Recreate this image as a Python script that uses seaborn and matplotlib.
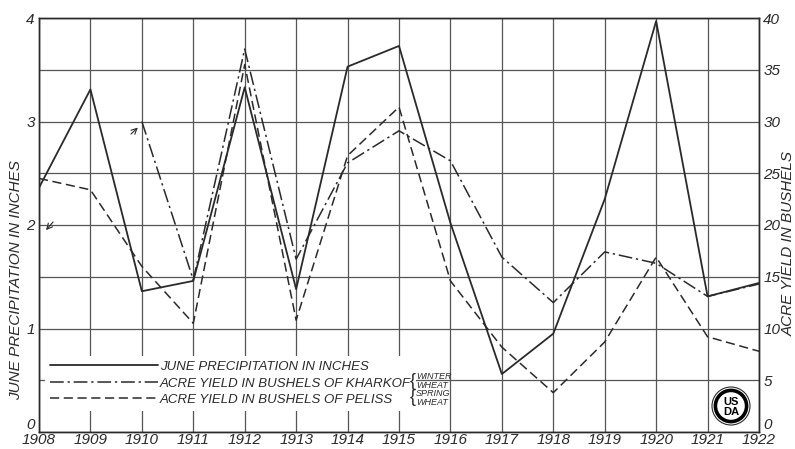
import numpy as np
import pandas as pd
import matplotlib
matplotlib.use("Agg")
import matplotlib.pyplot as plt
import seaborn as sns
from matplotlib.lines import Line2D
from matplotlib.patches import Circle

# values
years = list(range(1908, 1923))
precip = [2.36, 3.31, 1.36, 1.46, 3.33, 1.38, 3.53, 3.73, 2.02, 0.56, 0.95, 2.25, 3.97, 1.31, 1.44]

kharkof_years = list(range(1910, 1923))
kharkof = [30.0, 14.7, 37.0, 16.7, 26.0, 29.1, 26.2, 16.9, 12.5, 17.4, 16.3, 13.1, 14.3]

peliss = [24.5, 23.4, 16.0, 10.5, 35.5, 10.8, 26.7, 31.4, 14.6, 8.2, 3.8, 8.7, 16.9, 9.2, 7.8]

left_ticks = [0, 1, 2, 3, 4]
right_ticks = [0, 5, 10, 15, 20, 25, 30, 35, 40]
legend_labels = ["JUNE PRECIPITATION IN INCHES",
                 "ACRE YIELD IN BUSHELS OF KHARKOF",
                 "ACRE YIELD IN BUSHELS OF PELISS"]

sns.set_style("white")
plt.rcParams['font.family'] = ['Liberation Sans', 'DejaVu Sans']

ink = "#2a2a2a"
grid_col = "#555555"
lab_font = {'style': 'italic', 'size': 11, 'color': ink}

df_p = pd.DataFrame({'year': years, 'precip': precip})
df_k = pd.DataFrame({'year': kharkof_years, 'yield': kharkof})
df_s = pd.DataFrame({'year': years, 'yield': peliss})

fig = plt.figure(figsize=(7.95, 4.49), dpi=100)
ax = fig.add_axes([39 / 795, 17 / 449, 720 / 795, 414 / 449])
ax2 = ax.twinx()

dash_dot = (0, (9, 2.5, 1.5, 2.5))
dashed = (0, (6, 3))

sns.lineplot(data=df_p, x='year', y='precip', ax=ax, color=ink, linewidth=1.3)
sns.lineplot(data=df_k, x='year', y='yield', ax=ax2, color=ink, linewidth=1.1, linestyle=dash_dot)
sns.lineplot(data=df_s, x='year', y='yield', ax=ax2, color=ink, linewidth=1.1, linestyle=dashed)

ax.set_xlim(1908, 1922)
ax.set_ylim(0, 4)
ax2.set_ylim(0, 40)

ax.set_xticks(years)
ax.set_xticklabels([str(y) for y in years], fontdict=lab_font)
half_ticks = np.arange(0, 4.01, 0.5)
ax.set_yticks(half_ticks)
ax.set_yticklabels([str(int(t)) if t in left_ticks else "" for t in half_ticks], fontdict=lab_font)
ax2.set_yticks(right_ticks)
ax2.set_yticklabels([str(t) for t in right_ticks], fontdict=lab_font)
# the zero labels sit just above the year row
ax.get_yticklabels()[0].set_va('bottom')
ax2.get_yticklabels()[0].set_va('bottom')

ax.grid(True, color=grid_col, linewidth=0.9)
ax.set_axisbelow(True)
ax.tick_params(axis='both', length=0)
ax.tick_params(axis='y', pad=3)
ax.tick_params(axis='x', pad=1)
ax2.tick_params(axis='y', length=0, pad=3)
ax.set_xlabel("")
ax.set_ylabel("")
ax2.set_ylabel("")
for a in (ax, ax2):
    for s in a.spines.values():
        s.set_color(ink)
        s.set_linewidth(1.0)

fig.text(16 / 795, 1 - 280 / 449, "JUNE PRECIPITATION IN INCHES", rotation=90,
         ha='center', va='center', **lab_font)
fig.text(789 / 795, 1 - 243 / 449, "ACRE YIELD IN BUSHELS", rotation=90,
         ha='center', va='center', **lab_font)

# arrows marking where the Kharkof record begins
ax.annotate("", xy=(1909.96, 2.96), xytext=(1909.75, 2.86),
            arrowprops=dict(arrowstyle='->', color=ink, lw=0.8))
ax.annotate("", xy=(1908.1, 1.93), xytext=(1908.31, 2.05),
            arrowprops=dict(arrowstyle='->', color=ink, lw=0.8))

handles = [Line2D([], [], color=ink, linewidth=1.3),
           Line2D([], [], color=ink, linewidth=1.1, linestyle=dash_dot),
           Line2D([], [], color=ink, linewidth=1.1, linestyle=dashed)]
leg = ax2.legend(handles, legend_labels, loc='lower left', bbox_to_anchor=(0.008, 0.05),
                 frameon=True, facecolor='white', edgecolor='none', framealpha=1,
                 prop={'style': 'italic', 'size': 9.5}, handlelength=8.2,
                 handletextpad=0.1, labelspacing=0.32, borderpad=0.4, borderaxespad=0)
for t in leg.get_texts():
    t.set_color(ink)

# braces with wheat type
for ytxt, word in [(381, "WINTER\nWHEAT"), (398, "SPRING\nWHEAT")]:
    yf = (432 - ytxt) / 414
    ax2.text(0.5155, yf, "{", transform=ax2.transAxes, ha='left', va='center',
             fontsize=13, color=ink, zorder=10)
    ax2.text(0.5235, yf, word, transform=ax2.transAxes, ha='left', va='center',
             fontsize=6.5, color=ink, style='italic', linespacing=0.95, zorder=10)

# USDA seal
seal = fig.add_axes([(731 - 20) / 795, (449 - 406 - 20) / 449, 40 / 795, 40 / 449])
seal.set_xlim(-1, 1)
seal.set_ylim(-1, 1)
seal.set_aspect('equal')
seal.axis('off')
seal.add_patch(Circle((0, 0), 0.95, facecolor='white', edgecolor=ink, linewidth=0.8))
seal.add_patch(Circle((0, 0), 0.78, facecolor='white', edgecolor='black', linewidth=2.6))
seal.text(0, 0.22, "US", ha='center', va='center', fontsize=8, fontweight='bold', color='black')
seal.text(0, -0.28, "DA", ha='center', va='center', fontsize=8, fontweight='bold', color='black')

fig.savefig("out.png", dpi=100, facecolor='white')
